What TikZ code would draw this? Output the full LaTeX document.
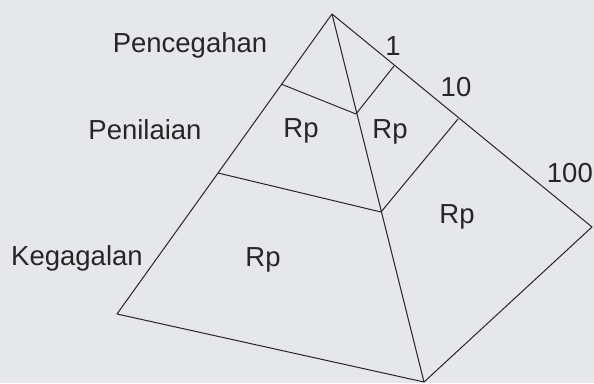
\documentclass[tikz,border=0pt]{standalone}
\usepackage{fontspec}
\setmainfont{Liberation Sans}
\begin{document}
\begin{tikzpicture}[x=1pt,y=-1pt,
  edge/.style={draw=black!85, line width=1pt, line join=round},
  lbl/.style={text=black!85, font=\fontsize{27.5}{31}\selectfont, inner sep=0pt}]
\fill[fill={rgb,255:red,230;green,231;blue,234}] (0,0) rectangle (594,383);
\useasboundingbox (0,0) rectangle (594,383);
% corners
\coordinate (A) at (332,14);
\coordinate (L) at (117,314);
\coordinate (B) at (424,382);
\coordinate (R) at (592,227);
% front edge points
\coordinate (F1) at (356,114);
\coordinate (F2) at (381,212);
% left edge points
\coordinate (L1) at (281,84);
\coordinate (L2) at (218,173);
% right edge points
\coordinate (R1) at (394,66);
\coordinate (R2) at (458,119);
% outline
\draw[edge] (A) -- (L) -- (B) -- (R) -- cycle;
\draw[edge] (A) -- (B);
% level lines
\draw[edge] (L1) -- (F1) -- (R1);
\draw[edge] (L2) -- (F2) -- (R2);
% labels
\node[lbl] (pencegahan) at (190,45) {Pencegahan};
\node[lbl] (penilaian) at (145,130) {Penilaian};
\node[lbl] (kegagalan) at (77,258) {Kegagalan};
\node[lbl] (rp1) at (301,131) {Rp};
\node[lbl] (rp2) at (390,132) {Rp};
\node[lbl] (rp3) at (263,260) {Rp};
\node[lbl] (rp4) at (457,217) {Rp};
\node[lbl] (n1) at (393,46) {1};
\node[lbl] (n10) at (456,87) {10};
\node[lbl, anchor=east] (n100) at (593,173) {100};
\end{tikzpicture}
\end{document}
